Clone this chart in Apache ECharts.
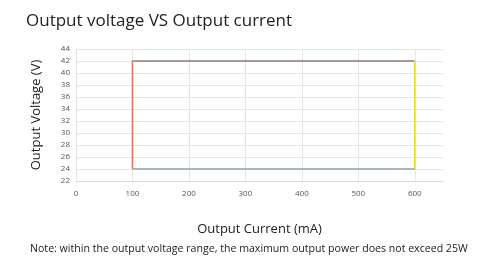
<!DOCTYPE html>
<html>
<head>
<meta charset="utf-8">
<script src="https://cdn.jsdelivr.net/npm/echarts@6/dist/echarts.min.js"></script>
<style>html,body{margin:0;padding:0;background:#fff;}#c{width:500px;height:270px;}</style>
</head>
<body>
<div id="c"></div>
<script>
const titleText = 'Output voltage VS Output current';
const xName = 'Output Current (mA)';
const yName = 'Output Voltage (V)';
const noteText = 'Note: within the output voltage range, the maximum output power does not exceed 25W';
const xTicks = [0, 100, 200, 300, 400, 500, 600];
const yTicks = [22, 24, 26, 28, 30, 32, 34, 36, 38, 40, 42, 44];
const leftEdge = [[100, 24], [100, 42]];
const topEdge = [[100, 42], [600, 42]];
const rightEdge = [[600, 42], [600, 24]];
const bottomEdge = [[600, 24], [100, 24]];
const edgeColors = ['#e0705c', '#8c7b72', '#e6e020', '#8fa3ad'];

const chart = echarts.init(document.getElementById('c'));
const font = '"Open Sans", sans-serif';
const seg = (d, c) => ({ type: 'line', data: d, symbol: 'none', lineStyle: { color: c, width: 1.5 }, silent: true, animation: false });
const xSplitColors = xTicks.map(() => '#e6e6e6').concat(['rgba(0,0,0,0)']);
chart.setOption({
  animation: false,
  title: { text: titleText, left: 21, top: 8, textStyle: { fontFamily: font, fontWeight: 'normal', fontSize: 17, color: '#222' } },
  grid: { left: 76, right: 57, top: 49, bottom: 89 },
  xAxis: {
    type: 'value', min: 0, max: 650, interval: 100,
    name: xName, nameLocation: 'middle', nameGap: 42,
    nameTextStyle: { fontFamily: font, fontSize: 13, color: '#222' },
    axisLine: { show: true, lineStyle: { color: '#d9d9d9' } },
    axisTick: { show: false },
    axisLabel: { fontFamily: font, fontSize: 8, color: '#555', margin: 9, showMaxLabel: false,
      formatter: v => xTicks.includes(v) ? String(v) : '' },
    splitLine: { show: true, lineStyle: { color: xSplitColors } }
  },
  yAxis: {
    type: 'value', min: 22, max: 44, interval: 2,
    name: yName, nameLocation: 'middle', nameGap: 33,
    nameTextStyle: { fontFamily: font, fontSize: 13, color: '#222' },
    axisLine: { show: false },
    axisTick: { show: false },
    axisLabel: { fontFamily: font, fontSize: 8, color: '#555', margin: 6,
      formatter: v => yTicks.includes(v) ? String(v) : '' },
    splitLine: { show: true, lineStyle: { color: '#e6e6e6' } }
  },
  graphic: [{ type: 'text', left: 30, top: 243, style: { text: noteText, font: '10.6px "Open Sans", sans-serif', fill: '#222' } }],
  series: [seg(leftEdge, edgeColors[0]), seg(topEdge, edgeColors[1]), seg(rightEdge, edgeColors[2]), seg(bottomEdge, edgeColors[3])]
});
</script>
</body>
</html>
